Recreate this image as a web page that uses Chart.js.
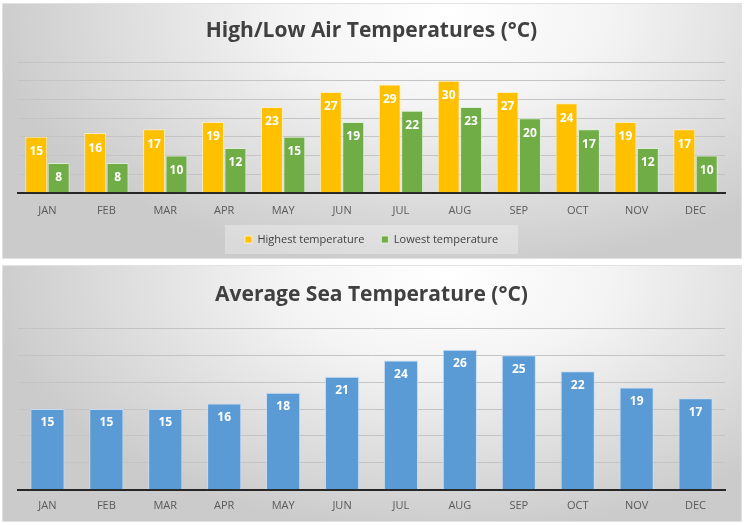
<!DOCTYPE html>
<html><head><meta charset="utf-8">
<script src="https://cdn.jsdelivr.net/npm/chart.js@4/dist/chart.umd.min.js"></script>
<style>
html,body{margin:0;padding:0;background:#fff;width:745px;height:525px;overflow:hidden}
.panel{position:absolute;left:2px;width:740px}
#p1{top:3px;height:256px}
#p2{top:265px;height:257px}
</style></head><body>
<div class="panel" id="p1"><canvas id="c1"></canvas></div>
<div class="panel" id="p2"><canvas id="c2"></canvas></div>
<script>
const months = ['JAN','FEB','MAR','APR','MAY','JUN','JUL','AUG','SEP','OCT','NOV','DEC'];
const highTemps = [15,16,17,19,23,27,29,30,27,24,19,17];
const lowTemps  = [8,8,10,12,15,19,22,23,20,17,12,10];
const seaTemps  = [15,15,15,16,18,21,24,26,25,22,19,17];
const airTitle = 'High/Low Air Temperatures (°C)';
const seaTitle = 'Average Sea Temperature (°C)';
const seriesNames = ['Highest temperature','Lowest temperature'];
const seaName = 'Sea temperature';

const FONT = "'Open Sans', 'DejaVu Sans', sans-serif";

const bgPlugin = {
  id: 'bg',
  beforeDraw(chart) {
    const {ctx, width: w, height: h} = chart;
    ctx.save();
    ctx.fillStyle = '#cfcfcf';
    ctx.fillRect(0, 0, w, h);
    ctx.translate(w * 0.6, h * 0.05);
    ctx.scale(1, 1.6 * h / w);
    const r = w * 0.62;
    const g = ctx.createRadialGradient(0, 0, 0, 0, 0, r);
    g.addColorStop(0, '#ffffff');
    g.addColorStop(0.35, '#f4f4f4');
    g.addColorStop(1, '#cbcbcb');
    ctx.fillStyle = g;
    ctx.fillRect(-w, -h * 3, w * 3, h * 8);
    ctx.restore();
    ctx.save();
    ctx.strokeStyle = '#e2e2e2';
    ctx.lineWidth = 1;
    ctx.strokeRect(0.5, 0.5, w - 1, h - 1);
    const lg = chart.legend;
    if (lg && lg.options.display && lg.legendHitBoxes && lg.legendHitBoxes.length) {
      const hb = lg.legendHitBoxes;
      const l = Math.min(...hb.map(b => b.left)) - 20;
      const rr = Math.max(...hb.map(b => b.left + b.width)) + 20;
      const t = hb[0].top - 9;
      ctx.fillStyle = 'rgba(255,255,255,0.3)';
      ctx.fillRect(l, t, rr - l, hb[0].height + 18);
    }
    ctx.restore();
  }
};

const valuePlugin = {
  id: 'values',
  afterDatasetsDraw(chart, args, opts) {
    const {ctx} = chart;
    ctx.save();
    ctx.fillStyle = '#ffffff';
    ctx.font = 'bold 12px ' + FONT;
    ctx.textAlign = 'center';
    ctx.textBaseline = 'middle';
    chart.data.datasets.forEach((ds, di) => {
      const meta = chart.getDatasetMeta(di);
      meta.data.forEach((el, i) => {
        ctx.fillText(String(ds.data[i]), el.x, el.y + opts.offset);
      });
    });
    ctx.restore();
  }
};

function xScale(pad) {
  return {
    grid: {display: false, drawTicks: false},
    border: {display: true, color: '#262626', width: 2},
    ticks: {color: '#595959', font: {family: FONT, size: 11}, padding: pad},
    afterFit(scale) { scale.height = scale.height - pad; }
  };
}
function yScale(max) {
  return {
    min: 0, max: max,
    ticks: {display: false, stepSize: 5},
    grid: {color: '#c4c4c4', lineWidth: 1, drawTicks: false},
    border: {display: false}
  };
}

new Chart(document.getElementById('c1'), {
  type: 'bar',
  data: {
    labels: months,
    datasets: [
      {label: seriesNames[0], data: highTemps, backgroundColor: '#FFC000', borderColor: 'rgba(255,240,190,0.9)', borderWidth: 1, categoryPercentage: 0.76, barPercentage: 0.98},
      {label: seriesNames[1], data: lowTemps, backgroundColor: '#70AD47', borderColor: 'rgba(220,240,210,0.9)', borderWidth: 1, categoryPercentage: 0.76, barPercentage: 0.98}
    ]
  },
  options: {
    responsive: true, maintainAspectRatio: false, animation: false, devicePixelRatio: 1,
    layout: {padding: {left: 16, right: 17, top: 0, bottom: 4}},
    scales: {x: xScale(11), y: yScale(35)},
    plugins: {
      title: {display: true, text: airTitle, color: '#404040', font: {family: FONT, size: 21, weight: 'bold'}, padding: {top: 15, bottom: 19}},
      legend: {position: 'bottom', labels: {boxWidth: 7, boxHeight: 7, padding: 17, color: '#404040', font: {family: FONT, size: 11}}},
      tooltip: {enabled: false},
      values: {offset: 15}
    }
  },
  plugins: [bgPlugin, valuePlugin]
});

new Chart(document.getElementById('c2'), {
  type: 'bar',
  data: {
    labels: months,
    datasets: [
      {label: seaName, data: seaTemps, backgroundColor: '#5B9BD5', borderColor: 'rgba(200,222,245,0.9)', borderWidth: 1, categoryPercentage: 0.58, barPercentage: 1}
    ]
  },
  options: {
    responsive: true, maintainAspectRatio: false, animation: false, devicePixelRatio: 1,
    layout: {padding: {left: 16, right: 17, top: 0, bottom: 10}},
    scales: {x: xScale(9), y: yScale(30)},
    plugins: {
      title: {display: true, text: seaTitle, color: '#404040', font: {family: FONT, size: 21, weight: 'bold'}, padding: {top: 17, bottom: 21}},
      legend: {display: false},
      tooltip: {enabled: false},
      values: {offset: 14}
    }
  },
  plugins: [bgPlugin, valuePlugin]
});
</script>
</body></html>
